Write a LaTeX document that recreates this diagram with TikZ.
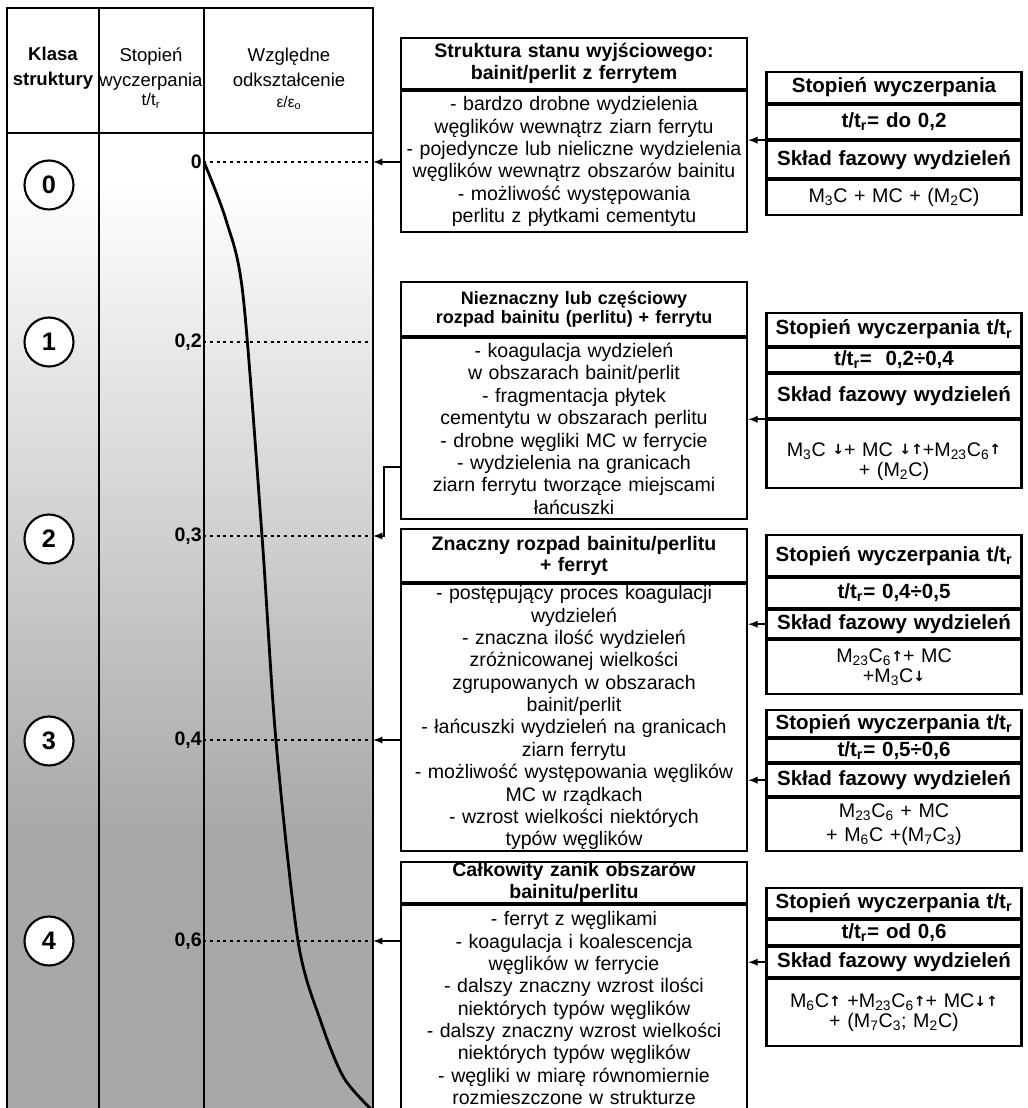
\documentclass[tikz,border=0pt]{standalone}
\usepackage{fontspec}
\setmainfont{Liberation Sans}
\newfontfamily\markfont{DejaVu Sans}
\usepackage{tikz}
\usetikzlibrary{positioning}
\usetikzlibrary{arrows}
\newdimen\pxl
\pxl=0.025cm
\setlength{\lineskiplimit}{-100pt}
\newcommand{\bodyfont}{\fontsize{13.9}{15.9}\selectfont}
\newcommand{\rfont}{\fontsize{14.6}{16.5}\selectfont}
\newcommand{\ffont}{\fontsize{14}{14.2}\selectfont}
\newcommand{\idx}[1]{\textsubscript{#1}}
\newcommand{\upmark}{\raisebox{1pt}{\markfont\bfseries\fontsize{10}{10}\selectfont ↑}}
\newcommand{\dnmark}{\raisebox{1pt}{\markfont\bfseries\fontsize{10}{10}\selectfont ↓}}
\tikzset{ tabline/.style={line width=1.8pt} }
\tikzset{ hdr/.style    ={align=center, inner sep=0pt, font=\fontsize{13.2}{17.8}\selectfont} }
\tikzset{ klasa/.style  ={draw, circle, line width=1.5pt, fill=white, minimum size=49\pxl, inner sep=0pt, font=\fontsize{18}{18}\selectfont\bfseries} }
\tikzset{ lvl/.style    ={anchor=east, inner sep=1\pxl, font=\bodyfont\bfseries} }
\tikzset{ midhead/.style={draw, line width=1.6pt, fill=white, minimum width=346\pxl, text width=342\pxl, inner xsep=2\pxl, inner ysep=0pt, align=center, font=\bodyfont\bfseries} }
\tikzset{ midbody/.style={midhead, font=\bodyfont} }
\tikzset{ rhead/.style  ={draw, line width=1.5pt, fill=white, minimum width=255\pxl, text width=251\pxl, inner xsep=2\pxl, inner ysep=0pt, align=center, font=\rfont\bfseries, text height=15\pxl, text depth=4\pxl} }
\tikzset{ rform/.style  ={draw, line width=1.5pt, fill=white, minimum width=255\pxl, text width=251\pxl, inner xsep=2\pxl, inner ysep=0pt, align=center, font=\ffont} }
\tikzset{ dots/.style   ={line width=1.3pt, dash pattern=on 2.2pt off 2.6pt} }
\tikzset{ ptr/.style    ={->, >=latex, line width=1.3pt} }
\tikzset{ curve/.style  ={line width=2pt} }

\begin{document}
\begin{tikzpicture}[x=0.025cm, y=-0.025cm]
    \clip (0,0) rectangle (1027,1108);

    % table with the grey background
    \fill[white] (7,8) rectangle (373,180);
    \shade[top color=white, bottom color=black!34] (7,180) rectangle (373,830);
    \fill[black!34] (7,830) rectangle (373,1115);

    \draw[tabline] (7,1115) -- (7,8) -- (373,8) -- (373,1115);
    \draw[tabline] (7,133) -- (373,133);
    \draw[tabline] (99,8) -- (99,1115);
    \draw[tabline] (204,8) -- (204,1115);

    \node[hdr, font=\fontsize{13.2}{17.8}\selectfont\bfseries] (h_klasa) at ( 53,68) {Klasa\\struktury};
    \node[hdr] (h_stop) at (151,78) {Stopień\\wyczerpania\\[-4pt]{\fontsize{12}{12}\selectfont t/t\idx{r}}};
    \node[hdr] (h_odk)  at (289,79) {Względne\\odkształcenie\\[-3pt]{\fontsize{11}{12}\selectfont ε/ε\idx{o}}};

    \node[klasa] (k0) at (49,185) {0};
    \node[klasa] (k1) at (49,342) {1};
    \node[klasa] (k2) at (49,539) {2};
    \node[klasa] (k3) at (49,741) {3};
    \node[klasa] (k4) at (49,941) {4};

    \node[lvl] (v0) at (203,162) {0};
    \node[lvl] (v1) at (203,342) {0,2};
    \node[lvl] (v2) at (203,536) {0,3};
    \node[lvl] (v3) at (203,740) {0,4};
    \node[lvl] (v4) at (203,941) {0,6};

    \coordinate (lv0) at (373,162);
    \coordinate (lv1) at (373,342);
    \coordinate (lv2) at (373,536);
    \coordinate (lv3) at (373,740);
    \coordinate (lv4) at (373,941);

    \draw[dots] (v0.east) -- (lv0);
    \draw[dots] (v1.east) -- (lv1);
    \draw[dots] (v2.east) -- (lv2);
    \draw[dots] (v3.east) -- (lv3);
    \draw[dots] (v4.east) -- (lv4);

    \draw[curve] plot[smooth, tension=0.5] coordinates {(204,162) (226,220) (243,295) (262,536) (276,741) (298,941) (321,1022) (344,1078) (374,1112)};

    % structure boxes
    \node[midhead, minimum height=51\pxl] (b0_head) at (574,63.5) {Struktura stanu wyjściowego:\\bainit/perlit z ferrytem};
    \node[midbody, minimum height=141\pxl, below=0pt of b0_head] (b0_body) {- bardzo drobne wydzielenia\\węglików wewnątrz ziarn ferrytu\\- pojedyncze lub nieliczne wydzielenia\\węglików wewnątrz obszarów bainitu\\- możliwość występowania\\perlitu z płytkami cementytu};

    \node[midhead, minimum height=54\pxl, font=\fontsize{12.8}{13.8}\selectfont\bfseries] (b1_head) at (574,309) {Nieznaczny lub częściowy\\rozpad bainitu (perlitu) + ferrytu};
    \node[midbody, minimum height=181\pxl, below=0pt of b1_head] (b1_body) {- koagulacja wydzieleń\\w obszarach bainit/perlit\\- fragmentacja płytek\\cementytu w obszarach perlitu\\- drobne węgliki MC w ferrycie\\- wydzielenia na granicach\\ziarn ferrytu tworzące miejscami\\łańcuszki};

    \node[midhead, minimum height=53\pxl, font=\fontsize{13.9}{14.9}\selectfont\bfseries] (b2_head) at (574,555.5) {Znaczny rozpad bainitu/perlitu\\+ ferryt};
    \node[midbody, minimum height=267\pxl, below=0pt of b2_head] (b2_body) {- postępujący proces koagulacji\\wydzieleń\\- znaczna ilość wydzieleń\\zróżnicowanej wielkości\\zgrupowanych w obszarach\\bainit/perlit\\- łańcuszki wydzieleń na granicach\\ziarn ferrytu\\- możliwość występowania węglików\\MC w rządkach\\- wzrost wielkości niektórych\\typów węglików};

    \node[midhead, minimum height=41\pxl] (b3_head) at (574,882.5) {Całkowity zanik obszarów\\bainitu/perlitu};
    \node[midbody, minimum height=206\pxl, below=0pt of b3_head] (b3_body) {- ferryt z węglikami\\- koagulacja i koalescencja\\węglików w ferrycie\\- dalszy znaczny wzrost ilości\\niektórych typów węglików\\- dalszy znaczny wzrost wielkości\\niektórych typów węglików\\- węgliki w miarę równomiernie\\rozmieszczone w strukturze};

    \draw[ptr] (b0_body.west |- lv0) -- (lv0);
    \coordinate (b1_turn) at (384,467);
    \draw[ptr] (b1_body.west |- b1_turn) -- (b1_turn) |- (lv2);
    \draw[ptr] (b2_body.west |- lv3) -- (lv3);
    \draw[ptr] (b3_body.west |- lv4) -- (lv4);

    % phase tables
    \node[rhead, minimum height=31\pxl] (r0_st) at (894,87.5) {Stopień wyczerpania};
    \node[rhead, minimum height=34\pxl, below=0pt of r0_st] (r0_tt) {t/t\idx{r}= do 0,2};
    \node[rhead, minimum height=37\pxl, below=0pt of r0_tt] (r0_sk) {Skład fazowy wydzieleń};
    \node[rform, minimum height=35\pxl, below=0pt of r0_sk] (r0_fm) {M\idx{3}C + MC + (M\idx{2}C)};

    \node[rhead, minimum height=33\pxl] (r1_st) at (894,329.5) {Stopień wyczerpania t/t\idx{r}};
    \node[rhead, minimum height=24\pxl, below=0pt of r1_st] (r1_tt) {t/t\idx{r}=\ \ 0,2÷0,4};
    \node[rhead, minimum height=44\pxl, below=0pt of r1_tt] (r1_sk) {Skład fazowy wydzieleń};
    \node[rform, minimum height=68\pxl, below=0pt of r1_sk] (r1_fm) {\rule{0pt}{20pt}M\idx{3}C \dnmark+ MC \dnmark\upmark+M\idx{23}C\idx{6}\upmark\\+ (M\idx{2}C)};

    \node[rhead, minimum height=41\pxl] (r2_st) at (894,555.5) {Stopień wyczerpania t/t\idx{r}};
    \node[rhead, minimum height=30\pxl, below=0pt of r2_st] (r2_tt) {t/t\idx{r}= 0,4÷0,5};
    \node[rhead, minimum height=28\pxl, below=0pt of r2_tt] (r2_sk) {Skład fazowy wydzieleń};
    \node[rform, minimum height=54\pxl, below=0pt of r2_sk] (r2_fm) {M\idx{23}C\idx{6}\upmark+ MC\\+M\idx{3}C\dnmark};

    \node[rhead, minimum height=27\pxl] (r3_st) at (894,723.5) {Stopień wyczerpania t/t\idx{r}};
    \node[rhead, minimum height=23\pxl, below=0pt of r3_st] (r3_tt) {t/t\idx{r}= 0,5÷0,6};
    \node[rhead, minimum height=32\pxl, below=0pt of r3_tt] (r3_sk) {Skład fazowy wydzieleń};
    \node[rform, minimum height=53\pxl, below=0pt of r3_sk] (r3_fm) {M\idx{23}C\idx{6} + MC\\[3pt]+ M\idx{6}C +(M\idx{7}C\idx{3})};

    \node[rhead, minimum height=30\pxl] (r4_st) at (894,903) {Stopień wyczerpania t/t\idx{r}};
    \node[rhead, minimum height=25\pxl, below=0pt of r4_st] (r4_tt) {t/t\idx{r}= od 0,6};
    \node[rhead, minimum height=30\pxl, below=0pt of r4_tt] (r4_sk) {Skład fazowy wydzieleń};
    \node[rform, minimum height=67\pxl, below=0pt of r4_sk] (r4_fm) {M\idx{6}C\upmark\ +M\idx{23}C\idx{6}\upmark+ MC\dnmark\upmark\\+ (M\idx{7}C\idx{3}; M\idx{2}C)};

    \draw[ptr] (r0_sk.north west) -- (r0_sk.north west -| b0_body.east);
    \draw[ptr] (r1_sk.south west) -- (r1_sk.south west -| b1_body.east);
    \draw[ptr] (r2_sk.west) -- (r2_sk.west -| b2_body.east);
    \draw[ptr] (r3_sk.west) -- (r3_sk.west -| b2_body.east);
    \draw[ptr] (r4_sk.west) -- (r4_sk.west -| b3_body.east);
\end{tikzpicture}
\end{document}
